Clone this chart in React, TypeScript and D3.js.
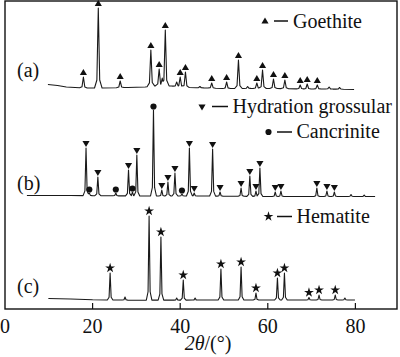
import React from 'react';
import * as d3 from 'd3';

const W = 400;
const H = 357;

// axis
const X_DOMAIN: [number, number] = [0, 89.5];
const Y_DOMAIN: [number, number] = [0, 308];
const xTicks = [0, 20, 40, 60, 80];

// ---- pattern (a): goethite ----
const rangeA: [number, number] = [9.8, 79.7];
const baselineA: [number, number][] = [
  [9.8, 224.5], [12, 223.5], [14, 222], [16, 221.5], [18, 221], [22, 221], [28, 221.5],
  [32, 222], [35, 223.5], [38, 223], [42, 221.5], [46, 221], [50, 220.5], [56, 220.5],
  [62, 220.5], [68, 220], [74, 220], [79.7, 219.5],
];
const goethiteA: [number, number][] = [
  [17.9, 232], [21.3, 301], [26.3, 228], [33.3, 259], [35.2, 240], [36.6, 279],
  [40.0, 232], [41.2, 237], [47.2, 226], [50.6, 227], [53.3, 249], [57.5, 226],
  [58.8, 239], [61.3, 230], [63.9, 229], [67.4, 224], [69.0, 225], [71.3, 224],
];
const minorA: [number, number][] = [
  [35.9, 231], [39.2, 227], [44.5, 222.5], [55.4, 222.5], [74.0, 222], [76.4, 221.5],
];

// ---- pattern (b): hydration grossular + cancrinite ----
const rangeB: [number, number] = [5.0, 84.5];
const baselineB: [number, number][] = [
  [5.0, 113.5], [15, 113.5], [30, 113], [45, 113], [60, 112.5], [84.5, 112.5],
];
const grossularB: [number, number][] = [
  [18.5, 161], [21.2, 132], [28.2, 139], [30.1, 154], [35.8, 119], [37.2, 127],
  [38.8, 136], [42.1, 161], [43.2, 116], [47.4, 160], [49.1, 117], [53.9, 121],
  [55.9, 133], [57.3, 118], [58.2, 141], [61.7, 117], [63.0, 118], [71.2, 121],
  [73.5, 118], [75.2, 117],
];
const cancriniteB: [number, number][] = [
  [19.25, 116], [25.3, 116], [29.1, 117], [33.9, 199], [40.4, 115],
];
const minorB: [number, number][] = [[79.0, 114.5], [82.0, 114]];

// ---- pattern (c): hematite ----
const rangeC: [number, number] = [9.9, 79.9];
const baselineC: [number, number][] = [
  [9.9, 10.5], [15, 10], [20, 9.2], [30, 8.8], [50, 9], [79.9, 9],
];
const hematiteC: [number, number][] = [
  [24.0, 36], [32.9, 93], [35.6, 72], [40.7, 29], [49.3, 40], [53.9, 42],
  [57.3, 16], [62.2, 31], [63.8, 36], [69.4, 11.5], [71.7, 14], [75.4, 14],
];
const minorC: [number, number][] = [[27.4, 12], [39.2, 11], [43.4, 11], [77.6, 11]];

// legend
const legendNames = ['Goethite', 'Hydration grossular', 'Cancrinite', 'Hematite'];
const sampleLabels = ['(a)', '(b)', '(c)'];

const FONT = '"Liberation Serif", "Times New Roman", serif';

const x = d3.scaleLinear().domain(X_DOMAIN).range([5, 397]);
const y = d3.scaleLinear().domain(Y_DOMAIN).range([309, 1]);

// peak profile (offset in degrees -> fraction of height)
const PROFILE_OFF = [-0.75, -0.28, 0, 0.28, 0.75];
const PROFILE_VAL = [0, 0.1, 1, 0.1, 0];

function buildTrace(
  range: [number, number],
  baseline: [number, number][],
  peaks: [number, number][],
  widthScale: number
): [number, number][] {
  const base = d3
    .scaleLinear()
    .domain(baseline.map((d) => d[0]))
    .range(baseline.map((d) => d[1]))
    .clamp(true);
  const prof = d3
    .scaleLinear()
    .domain(PROFILE_OFF.map((o) => o * widthScale))
    .range(PROFILE_VAL)
    .clamp(true);
  const hs = peaks.map(([p, t]) => [p, t - base(p)] as [number, number]);
  const xsSet = new Set<number>([range[0], range[1]]);
  baseline.forEach((d) => xsSet.add(d[0]));
  hs.forEach(([p]) => PROFILE_OFF.forEach((o) => xsSet.add(p + o * widthScale)));
  const xs = Array.from(xsSet)
    .filter((v) => v >= range[0] && v <= range[1])
    .sort((a, b) => a - b);
  return xs.map((xv) => {
    let m = 0;
    hs.forEach(([p, h]) => {
      const v = h * prof(xv - p);
      if (v > m) m = v;
    });
    return [xv, base(xv) + m];
  });
}

const traceA = buildTrace(rangeA, baselineA, [...goethiteA, ...minorA], 1.15);
const traceB = buildTrace(rangeB, baselineB, [...grossularB, ...cancriniteB, ...minorB], 0.9);
const traceC = buildTrace(rangeC, baselineC, [...hematiteC, ...minorC], 0.85);

const line = d3
  .line<[number, number]>()
  .x((d) => x(d[0]))
  .y((d) => y(d[1]));

const triPath = d3.symbol().type(d3.symbolTriangle).size(22)() as string;
const circPath = d3.symbol().type(d3.symbolCircle).size(30)() as string;
const starPath = d3.symbol().type(d3.symbolStar).size(30)() as string;

export default function App() {
  const ink = '#111';
  const lineColor = '#1a1a1a';
  return (
    <svg
      width={W}
      height={H}
      viewBox={`0 0 ${W} ${H}`}
      style={{ position: 'absolute', left: 0, top: 0, background: '#fff', fontFamily: FONT }}
    >
      <rect x={0} y={0} width={W} height={H} fill="#fff" />
      {/* traces */}
      <path d={line(traceA) as string} fill="none" stroke={lineColor} strokeWidth={1.1} strokeLinejoin="round" />
      <path d={line(traceB) as string} fill="none" stroke={lineColor} strokeWidth={1.1} strokeLinejoin="round" />
      <path d={line(traceC) as string} fill="none" stroke={lineColor} strokeWidth={1.1} strokeLinejoin="round" />

      {/* markers */}
      {goethiteA.map(([p, t], i) => (
        <path key={'g' + i} d={triPath} transform={`translate(${x(p)},${y(t) - 4})`} fill={ink} />
      ))}
      {grossularB.map(([p, t], i) => (
        <path key={'h' + i} d={triPath} transform={`translate(${x(p)},${y(t) - 5}) rotate(180)`} fill={ink} />
      ))}
      {cancriniteB.map(([p, t], i) => (
        <path key={'c' + i} d={circPath} transform={`translate(${x(p)},${y(t) - 3.5})`} fill={ink} />
      ))}
      {hematiteC.map(([p, t], i) => (
        <path key={'s' + i} d={starPath} transform={`translate(${x(p)},${y(t) - 5})`} fill={ink} />
      ))}

      {/* frame */}
      <rect x={x(0)} y={1} width={x(89.5) - x(0)} height={308} fill="none" stroke={ink} strokeWidth={1.4} />
      {xTicks.map((t) => (
        <g key={t}>
          {t > 0 && <line x1={x(t)} x2={x(t)} y1={309} y2={303} stroke={ink} strokeWidth={1.2} />}
          <text x={x(t)} y={333} textAnchor="middle" fontSize={20} fill={ink}>
            {t}
          </text>
        </g>
      ))}
      <text x={208} y={350} textAnchor="middle" fontSize={20} fill={ink}>
        <tspan fontStyle="italic">2θ</tspan>
        <tspan>/(°)</tspan>
      </text>

      {/* sample labels */}
      <text x={17} y={77} fontSize={20} fill={ink}>{sampleLabels[0]}</text>
      <text x={17} y={189.5} fontSize={20} fill={ink}>{sampleLabels[1]}</text>
      <text x={17} y={292.5} fontSize={20} fill={ink}>{sampleLabels[2]}</text>

      {/* legend */}
      <path d={triPath} transform="translate(265,21.5)" fill={ink} />
      <line x1={274} x2={288} y1={21} y2={21} stroke={ink} strokeWidth={1.5} />
      <text x={293} y={27.5} fontSize={20} fill={ink}>{legendNames[0]}</text>

      <path d={triPath} transform="translate(202,106.5) rotate(180)" fill={ink} />
      <line x1={212} x2={228} y1={106.5} y2={106.5} stroke={ink} strokeWidth={1.5} />
      <text x={232.5} y={113} fontSize={20} fill={ink}>{legendNames[1]}</text>

      <path d={circPath} transform="translate(268.5,132)" fill={ink} />
      <line x1={277} x2={292} y1={132} y2={132} stroke={ink} strokeWidth={1.5} />
      <text x={296.5} y={138} fontSize={20} fill={ink}>{legendNames[2]}</text>

      <path d={starPath} transform="translate(268.5,216.5)" fill={ink} />
      <line x1={277} x2={292} y1={216.5} y2={216.5} stroke={ink} strokeWidth={1.5} />
      <text x={296.5} y={222.5} fontSize={20} fill={ink}>{legendNames[3]}</text>
    </svg>
  );
}
